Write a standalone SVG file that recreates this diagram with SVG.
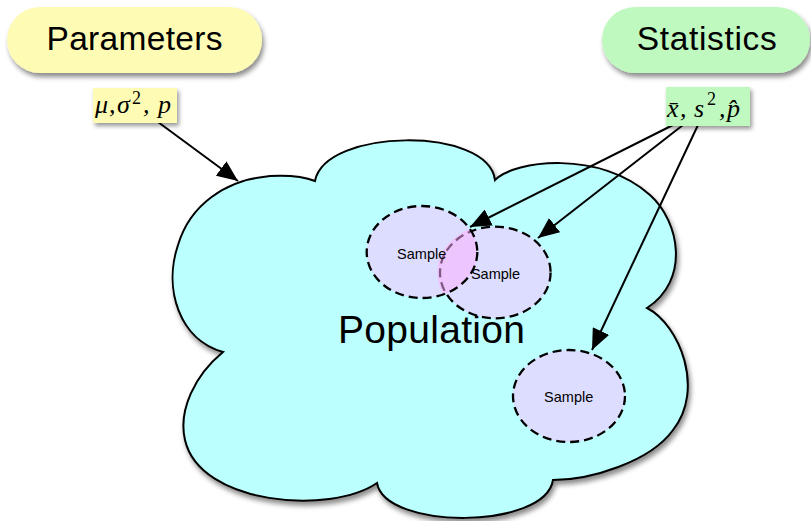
<svg xmlns="http://www.w3.org/2000/svg" width="811" height="521" viewBox="0 0 811 521">
<defs>
<filter id="sh" x="-20%" y="-20%" width="140%" height="150%">
<feDropShadow dx="2" dy="4" stdDeviation="2.5" flood-color="#000" flood-opacity="0.45"/>
</filter>
<filter id="shs" x="-20%" y="-20%" width="140%" height="160%">
<feDropShadow dx="2" dy="3" stdDeviation="2" flood-color="#000" flood-opacity="0.4"/>
</filter>
<marker id="ah" markerWidth="21" markerHeight="18" refX="21" refY="9" orient="auto" markerUnits="userSpaceOnUse">
<path d="M0,0 L21,9 L0,18 z" fill="#000"/>
</marker>
<clipPath id="c1"><ellipse cx="422" cy="252" rx="55.3" ry="46"/></clipPath>
</defs>
<style>
.sans{font-family:"Liberation Sans",Arial,Helvetica,sans-serif;fill:#000}
.math{font-family:"Liberation Serif","Times New Roman",serif;font-style:italic;font-size:26px;fill:#000}
.sup{font-family:"Liberation Serif","Times New Roman",serif;font-style:normal;font-size:18px}
.samp{fill:#ddddff;stroke:none}
.dash{fill:none;stroke:#000;stroke-width:2.3;stroke-dasharray:9 5}
.conn{stroke:#000;stroke-width:2;fill:none;marker-end:url(#ah)}
.stxt{font-size:14.5px;text-anchor:middle}
</style>

<g id="population">
<path filter="url(#sh)" fill="#bbffff" stroke="#000" stroke-width="2" d="M315,181 C325,128 488,126 495,180 C515,160 600,150 650,195 C680,222 690,280 647,308 C680,325 705,390 673,430 C650,462 590,480 553,480 C545,530 385,530 377,483 C330,515 200,505 185,440 C178,410 195,375 223,352 C180,340 163,290 178,245 C190,205 225,180 270,176 C290,175 305,177 315,181 Z"/>
<text class="sans" x="431.5" y="343" font-size="39" text-anchor="middle" textLength="187" lengthAdjust="spacing">Population</text>
</g>

<g id="sample1-fill">
<ellipse class="samp" cx="422" cy="252" rx="55.3" ry="46"/>
</g>
<g id="sample2">
<ellipse class="samp" cx="495.3" cy="272.5" rx="55.3" ry="45.8"/>
<ellipse class="dash" cx="495.3" cy="272.5" rx="55.3" ry="45.8"/>
</g>
<g id="overlap" clip-path="url(#c1)">
<ellipse cx="495.3" cy="272.5" rx="58" ry="48.5" fill="#ffb0ff" opacity="0.5"/>
</g>
<g id="sample1">
<ellipse class="dash" cx="422" cy="252" rx="55.3" ry="46"/>
<text class="sans stxt" x="421.7" y="259">Sample</text>
</g>
<g id="sample2-label">
<text class="sans stxt" x="495.5" y="279">Sample</text>
</g>
<g id="sample3">
<ellipse class="samp" cx="569" cy="396" rx="56" ry="46"/>
<ellipse class="dash" cx="569" cy="396" rx="56" ry="46"/>
<text class="sans stxt" x="568.7" y="401.5">Sample</text>
</g>

<g id="connectors">
<line class="conn" x1="158" y1="122" x2="238" y2="181"/>
<line class="conn" x1="673" y1="125" x2="470" y2="227"/>
<line class="conn" x1="683" y1="125" x2="538" y2="238"/>
<line class="conn" x1="698" y1="125" x2="592" y2="350"/>
</g>

<g id="parameters">
<rect x="7" y="7" width="255" height="66" rx="33" fill="#fefcb4" filter="url(#sh)"/>
<text class="sans" x="134.5" y="50" font-size="33.5" text-anchor="middle" textLength="176" lengthAdjust="spacing">Parameters</text>
</g>
<g id="statistics">
<rect x="602" y="7" width="208" height="66" rx="33" fill="#bff9bf" filter="url(#sh)"/>
<text class="sans" x="706.7" y="50" font-size="33.5" text-anchor="middle" textLength="140" lengthAdjust="spacing">Statistics</text>
</g>

<g id="param-values">
<rect x="93" y="88" width="84" height="35" fill="#fefcb4" filter="url(#shs)"/>
<text class="math" y="113"><tspan x="95">μ</tspan><tspan x="109">,</tspan><tspan x="117">σ</tspan><tspan class="sup" x="132" y="104">2</tspan><tspan x="143" y="113">,</tspan><tspan x="158">p</tspan></text>
</g>
<g id="stat-values">
<rect x="666" y="87" width="84" height="39" fill="#bff9bf" filter="url(#shs)"/>
<text class="math" y="117"><tspan x="667">x̄</tspan><tspan x="680">,</tspan><tspan x="694">s</tspan><tspan class="sup" x="707" y="105">2</tspan><tspan x="719" y="117">,</tspan><tspan x="727">p̂</tspan></text>
</g>
</svg>
